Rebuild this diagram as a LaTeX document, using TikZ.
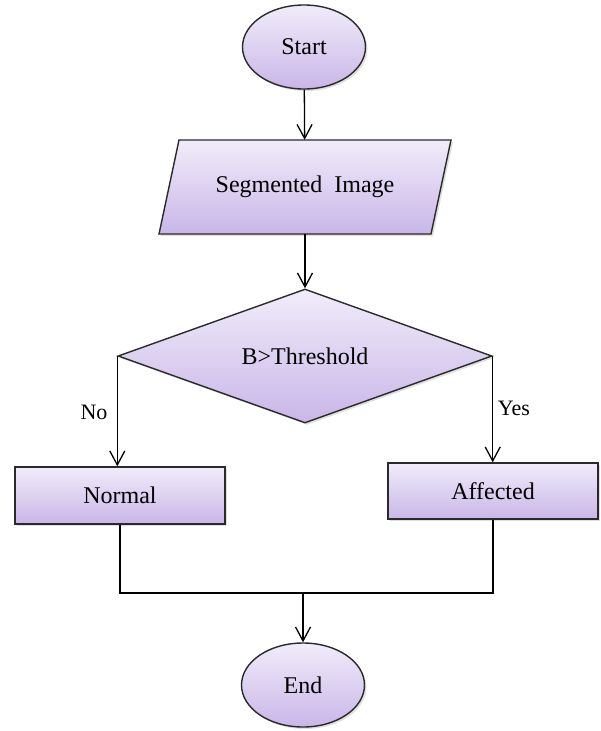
\documentclass[tikz,border=0pt]{standalone}
\usepackage{fontspec}
\setmainfont{Liberation Serif}
\usetikzlibrary{shapes.geometric,arrows.meta,shadows}
\definecolor{fltop}{HTML}{F1ECFA}
\definecolor{flbot}{HTML}{C9B6E8}
\definecolor{edge}{HTML}{2A2A2A}
\tikzset{
  fillstyle/.style={draw=edge, line width=1.4pt, top color=fltop, bottom color=flbot,
    drop shadow={opacity=0.25, shadow xshift=2pt, shadow yshift=-2pt}},
  boxbase/.style={fillstyle, inner sep=2pt, font=\fontsize{24}{28}\selectfont},
  termbox/.style={boxbase, ellipse, minimum width=123pt, minimum height=84pt},
  iotext/.style={inner sep=2pt, font=\fontsize{24}{28}\selectfont, minimum width=272pt, minimum height=94pt},
  decbox/.style={boxbase, diamond, shape aspect=2.79, inner sep=0pt, minimum width=374pt, minimum height=134pt},
  procbox/.style={boxbase, rectangle, minimum width=210pt, minimum height=57pt},
  conn/.style={draw=black, line width=1.3pt},
  arr/.style={conn, -{Straight Barb[length=14pt,width=15pt,line width=1.3pt]}},
  lbl/.style={font=\fontsize{22}{26}\selectfont, inner sep=0pt}
}
\begin{document}
\begin{tikzpicture}[x=1pt,y=-1pt]
\useasboundingbox (0,0) rectangle (601,731);
\node[termbox] (start) at (304,47) {Start};
\path[fillstyle] (179,140) -- (451,140) -- (431,234) -- (159,234) -- cycle;
\node[iotext] (seg) at (305,187) {Segmented\ \ Image};
\node[decbox] (dec) at (305,356) {B>Threshold};
\node[procbox] (normal) at (120,495.5) {Normal};
\node[procbox, minimum height=56pt] (aff) at (493,491) {Affected};
\node[termbox] (end) at (303,685) {End};
\coordinate (j) at (303,593);
\draw[arr] (start) -- (seg);
\draw[arr] (seg) -- (dec);
\draw[arr] (dec.west) -- (dec.west |- normal.north);
\draw[arr] (dec.east) -- (dec.east |- aff.north);
\node[lbl] (no) at (94,412) {No};
\node[lbl] (yes) at (514,408) {Yes};
\draw[conn] (normal.south) |- (j);
\draw[conn] (aff.south) |- (j);
\draw[arr] (j) -- (end.north);
\end{tikzpicture}
\end{document}
